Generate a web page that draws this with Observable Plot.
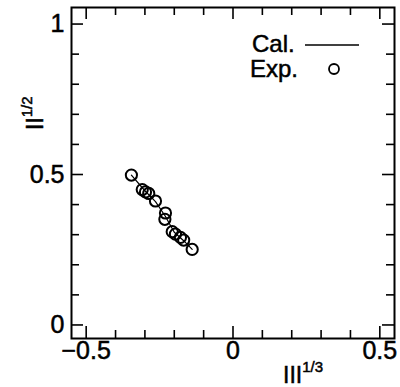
<!DOCTYPE html>
<html>
<head>
<meta charset="utf-8">
<script src="https://cdn.jsdelivr.net/npm/d3@7"></script>
<script src="https://cdn.jsdelivr.net/npm/@observablehq/plot@0.6"></script>
<style>
  body { margin: 0; background: #fff; }
  svg { display: block; }
  svg text { stroke: #000; stroke-width: 0.5px; }
</style>
</head>
<body>
<div id="chart"></div>
<script>
// Measured invariants (III^{1/3}, II^{1/2})
const expX = [-0.346, -0.309, -0.298, -0.287, -0.264, -0.230, -0.232, -0.207, -0.196, -0.179, -0.168, -0.139];
const expY = [0.498, 0.450, 0.442, 0.437, 0.412, 0.372, 0.351, 0.310, 0.302, 0.291, 0.282, 0.251];

// Calculated curve
const calX = [-0.346, -0.300, -0.264, -0.231, -0.200, -0.168, -0.139];
const calY = [0.498, 0.446, 0.410, 0.362, 0.308, 0.280, 0.251];

// Axis ticks
const xTickValues = [-0.5, -0.4, -0.3, -0.2, -0.1, 0, 0.1, 0.2, 0.3, 0.4, 0.5];
const yTickValues = [0, 0.1, 0.2, 0.3, 0.4, 0.5, 0.6, 0.7, 0.8, 0.9, 1];
const xLabelTicks = [-0.5, 0, 0.5];
const yLabelTicks = [0, 0.5, 1];

const W = 400, H = 387;
const mL = 71, mR = 6, mT = 7, mB = 49;
const frameW = W - mL - mR, frameH = H - mT - mB;
const majorLen = 12, minorLen = 8;

const expData = expX.map((x, i) => ({x, y: expY[i]}));
const calData = calX.map((x, i) => ({x, y: calY[i]}));
const near = (list, v) => list.some(t => Math.abs(t - v) < 1e-9);
const xMajor = xTickValues.filter(v => near(xLabelTicks, v));
const xMinor = xTickValues.filter(v => !near(xLabelTicks, v));
const yMajor = yTickValues.filter(v => near(yLabelTicks, v));
const yMinor = yTickValues.filter(v => !near(yLabelTicks, v));

const fmt = d => (d < 0 ? "\u2212" + Math.abs(d) : String(d));
const tickStyle = {stroke: "#000", strokeWidth: 1.6};
const font = "'Liberation Sans', Arial, Helvetica, sans-serif";

const chart = Plot.plot({
  width: W,
  height: H,
  marginLeft: mL,
  marginRight: mR,
  marginTop: mT,
  marginBottom: mB,
  style: {fontFamily: font, color: "#000", background: "#fff"},
  x: {domain: [-0.55, 0.55]},
  y: {domain: [-0.045, 1.055]},
  marks: [
    // inward ticks on all four sides
    Plot.ruleX(xMinor, {x: d => d, insetBottom: frameH - minorLen, ...tickStyle}),
    Plot.ruleX(xMajor, {x: d => d, insetBottom: frameH - majorLen, ...tickStyle}),
    Plot.ruleX(xMinor, {x: d => d, insetTop: frameH - minorLen, ...tickStyle}),
    Plot.ruleX(xMajor, {x: d => d, insetTop: frameH - majorLen, ...tickStyle}),
    Plot.ruleY(yMinor, {y: d => d, insetRight: frameW - minorLen, ...tickStyle}),
    Plot.ruleY(yMajor, {y: d => d, insetRight: frameW - majorLen, ...tickStyle}),
    Plot.ruleY(yMinor, {y: d => d, insetLeft: frameW - minorLen, ...tickStyle}),
    Plot.ruleY(yMajor, {y: d => d, insetLeft: frameW - majorLen, ...tickStyle}),
    Plot.axisX({ticks: xLabelTicks, tickSize: 0, tickPadding: 3, fontSize: 25, tickFormat: fmt, label: null}),
    Plot.axisY({ticks: yLabelTicks, tickSize: 0, tickPadding: 7, fontSize: 25, tickFormat: fmt, label: null}),
    Plot.frame({stroke: "#000", strokeWidth: 2}),
    Plot.line(calData, {x: "x", y: "y", stroke: "#000", strokeWidth: 1.2}),
    Plot.dot(expData, {x: "x", y: "y", r: 5.6, stroke: "#000", strokeWidth: 2, fill: "none"})
  ]
});

document.getElementById("chart").appendChild(chart);

const svg = d3.select(chart);

// axis titles with superscripts
const xt = svg.append("text")
  .attr("x", 283).attr("y", 383).attr("text-anchor", "start")
  .attr("font-family", font).attr("font-size", 23).attr("fill", "#000");
xt.append("tspan").text("III");
xt.append("tspan").attr("dy", -11).attr("font-size", 15).text("1/3");

const yt = svg.append("text")
  .attr("transform", "translate(43,130) rotate(-90)").attr("text-anchor", "start")
  .attr("font-family", font).attr("font-size", 23).attr("fill", "#000");
yt.append("tspan").text("II");
yt.append("tspan").attr("dy", -11).attr("font-size", 15).text("1/2");

// legend
const lg = svg.append("g").attr("font-family", font).attr("font-size", 24)
  .attr("fill", "#000").attr("text-anchor", "start");
lg.append("text").attr("x", 252).attr("y", 52).text("Cal.");
lg.append("line").attr("x1", 305).attr("x2", 359).attr("y1", 45).attr("y2", 45)
  .attr("stroke", "#000").attr("stroke-width", 1.4);
lg.append("text").attr("x", 250).attr("y", 77).text("Exp.");
lg.append("circle").attr("cx", 334).attr("cy", 69).attr("r", 5)
  .attr("fill", "none").attr("stroke", "#000").attr("stroke-width", 1.8);
</script>
</body>
</html>
